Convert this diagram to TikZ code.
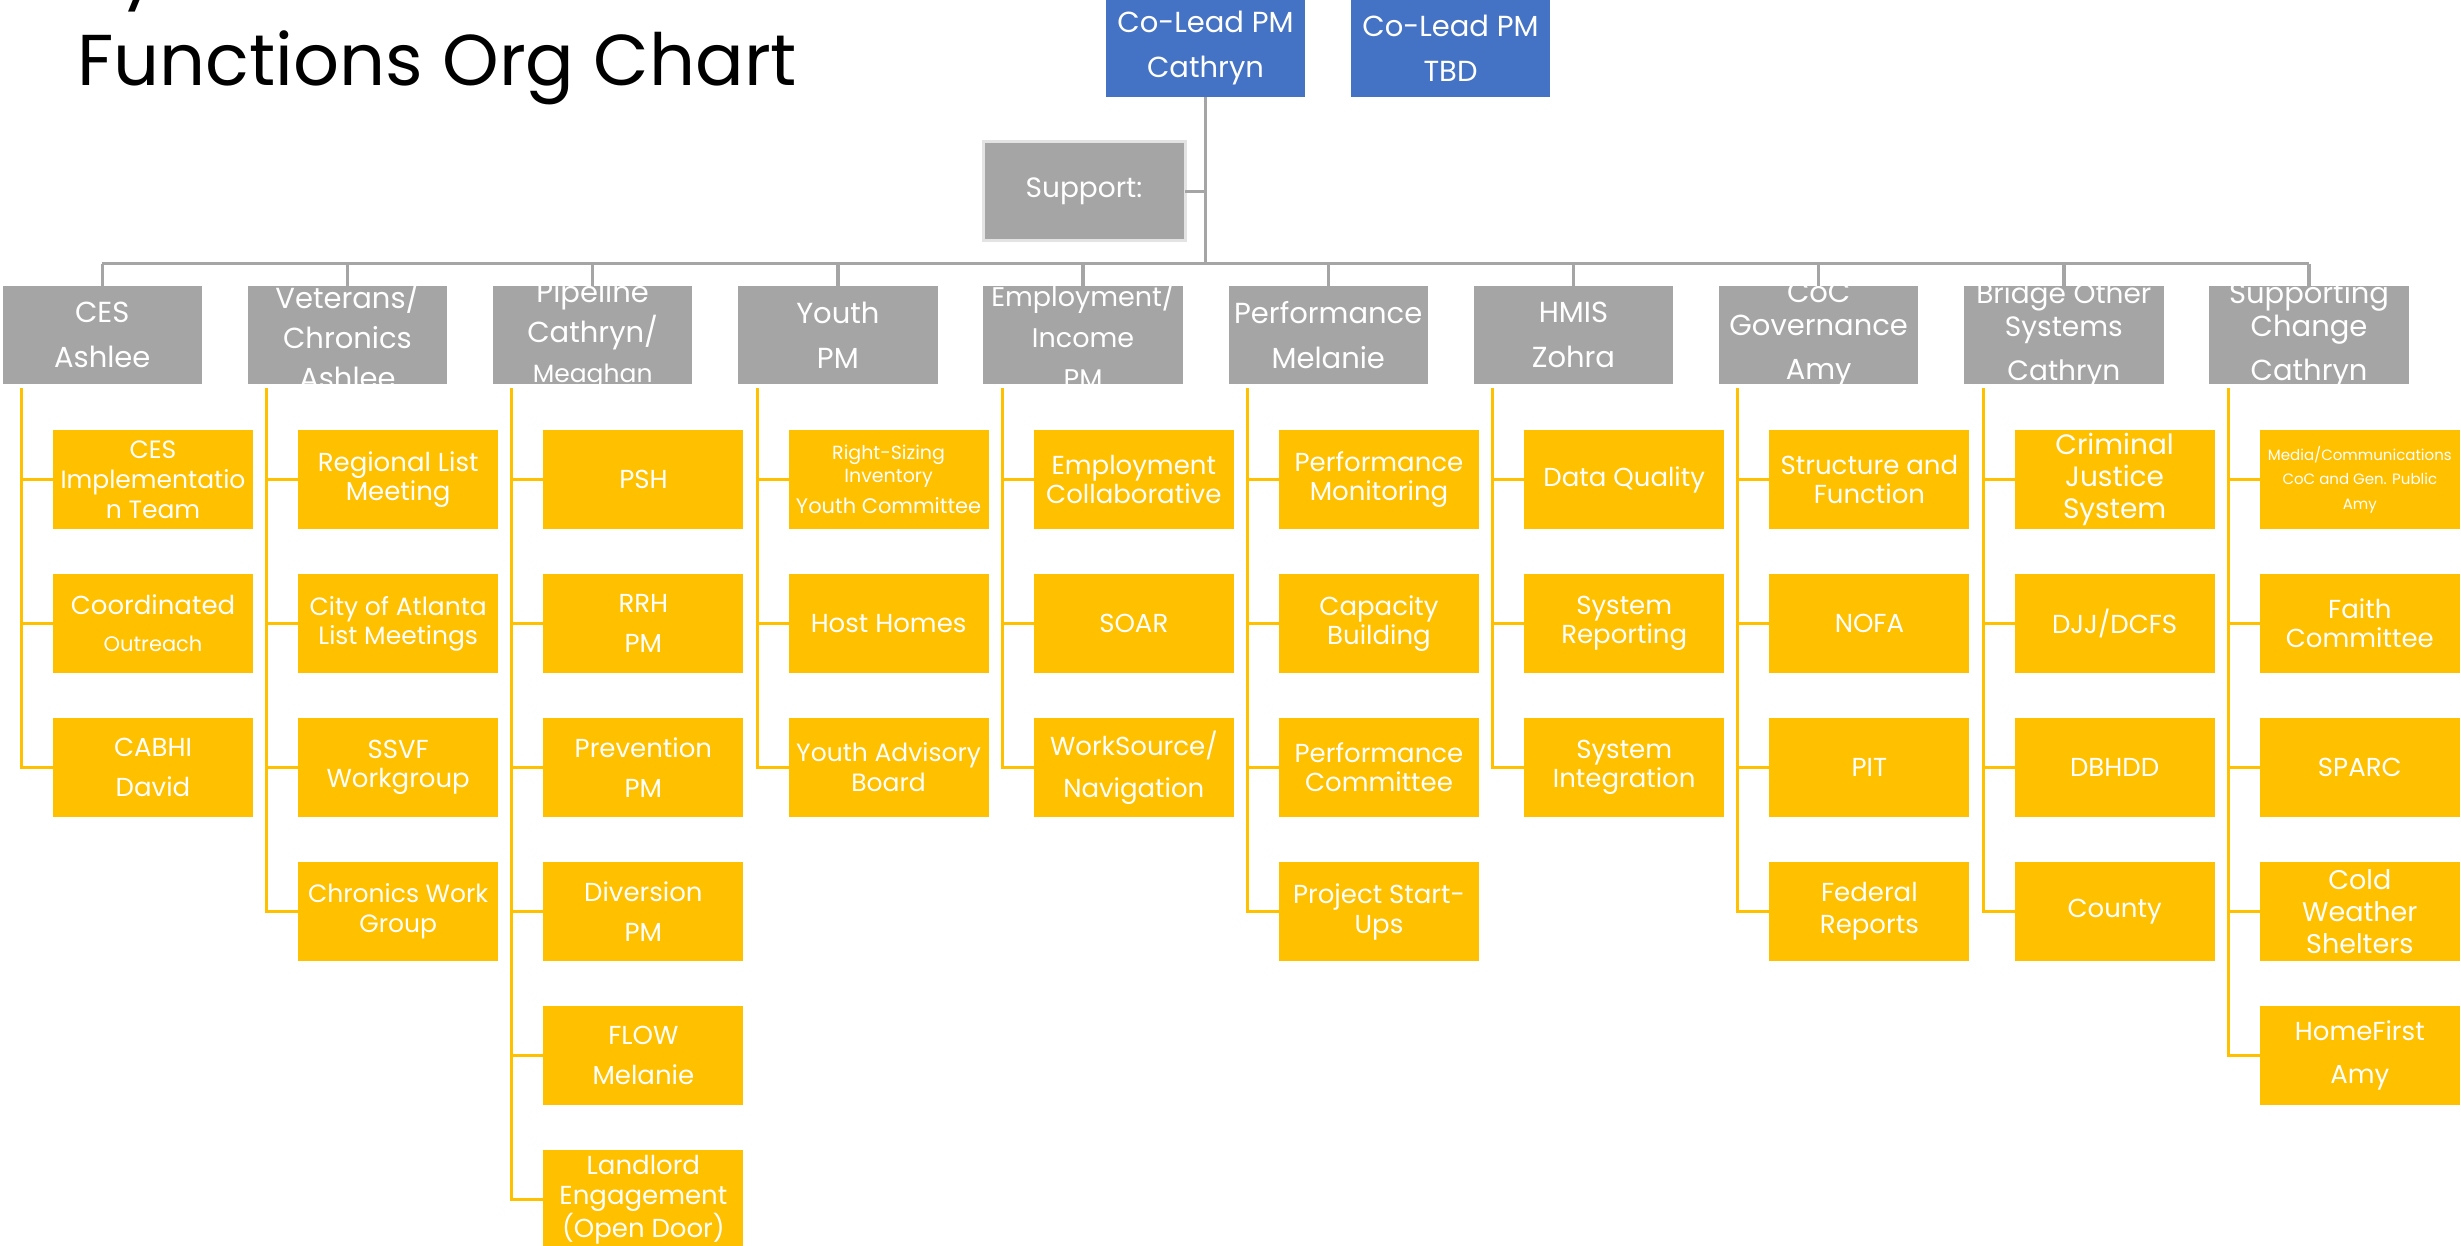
\documentclass[tikz,border=0pt]{standalone}
\usepackage{fontspec}
\setmainfont{Poppins}
\usetikzlibrary{calc}
\definecolor{hgray}{HTML}{A5A5A5}
\definecolor{kyel}{HTML}{FFC000}
\definecolor{lblue}{HTML}{4472C4}
\definecolor{sborder}{HTML}{E3E3E3}
\tikzset{
  headbox/.style={fill=hgray, draw=none, minimum width=99.75pt, minimum height=49pt, inner sep=0pt, outer sep=0pt, anchor=north west},
  kidbox/.style={fill=kyel, draw=none, minimum width=100pt, minimum height=49.5pt, inner sep=0pt, outer sep=0pt, anchor=north west},
  leadbox/.style={fill=lblue, draw=none, minimum width=99.5pt, minimum height=48.5pt, inner sep=0pt, outer sep=0pt, anchor=north west},
  headtxt/.style={text=white, align=center, inner sep=0pt, font=\fontsize{14.5}{20}\selectfont},
  kidtxt/.style={text=white, align=center, inner sep=0pt, font=\fontsize{13}{14.5}\selectfont},
  gline/.style={draw=hgray, line width=1.75pt},
  yline/.style={draw=kyel, line width=1.5pt},
  titletxt/.style={text=black, inner sep=0pt, anchor=base west, font=\fontsize{36}{40}\selectfont},
}
\newcommand{\mkhead}[4]{%
  \node[headbox] (#1) at (#2,286) {};
  \node[headtxt,#3] (#1t) at (#1.center) {#4};
}
\newcommand{\mkkid}[5]{%
  \node[kidbox] (#1) at ($(#2.north west)+(50.5,{144*(#3+1)})$) {};
  \node[kidtxt,#4] (#1t) at (#1.center) {#5};
  \draw[yline] ($(#2.south west)+(19,4)$) |- (#1.west);
}
\begin{document}
\begin{tikzpicture}[x=0.5pt,y=-0.5pt]
\useasboundingbox (0,0) rectangle (2461,1246);
% title
\node[titletxt] (title0) at (77,-6) {System};
\node[titletxt] (title) at (77,86) {Functions Org Chart};
% leads
\node[leadbox] (lead1) at (1106,0) {};
\node[headtxt] (lead1t) at (lead1.center) {Co-Lead PM\\[2.5pt]Cathryn};
\node[leadbox] (lead2) at (1351,0) {};
\node[headtxt] (lead2t) at (lead2.center) {Co-Lead PM\\[2.5pt]TBD};
% support
\node[fill=hgray, draw=sborder, line width=1.5pt, minimum width=101pt, minimum height=49.5pt, inner sep=0pt, outer sep=0pt, anchor=north west] (sup) at (983,142) {};
\node[headtxt, font=\fontsize{14}{16}\selectfont] (supt) at (sup.center) {Support:};
% heads
\mkhead{h1}{2.5}{}{CES\\[2.5pt]Ashlee}
\mkhead{h2}{247.7}{}{Veterans/\\Chronics\\Ashlee}
\mkhead{h3}{492.9}{}{Pipeline\\Cathryn/\\{\fontsize{12.5}{14}\selectfont Meaghan}}
\mkhead{h4}{738.1}{}{Youth\\[2.5pt]PM}
\mkhead{h5}{983.3}{font=\fontsize{13.5}{20.5}\selectfont}{Employment/\\Income\\PM}
\mkhead{h6}{1228.5}{}{Performance\\[2.5pt]Melanie}
\mkhead{h7}{1473.7}{}{HMIS\\[2.5pt]Zohra}
\mkhead{h8}{1718.9}{font=\fontsize{14.5}{16.5}\selectfont}{CoC\\Governance\\[5.5pt]Amy}
\mkhead{h9}{1964.1}{font=\fontsize{14}{16.5}\selectfont}{Bridge Other\\Systems\\[5.5pt]Cathryn}
\mkhead{h10}{2209.3}{font=\fontsize{14.5}{16.5}\selectfont}{Supporting\\Change\\[5.5pt]Cathryn}
% gray connectors
\coordinate (busy) at (0,263.5);
\draw[gline] (lead1.south) -- (lead1.south |- busy);
\draw[gline] (h1.north |- busy) -- (h10.north |- busy);
\foreach \h in {h1,h2,h3,h4,h5,h6,h7,h8,h9,h10}{
  \draw[gline] (\h.north |- busy) -- (\h.north);
}
\draw[gline] (sup.east) -- (sup.east -| lead1.south);
% children: CES
\mkkid{k11}{h1}{0}{font=\fontsize{12.5}{15}\selectfont}{CES\\Implementatio\\n Team}
\mkkid{k12}{h1}{1}{}{Coordinated\\[4pt]{\fontsize{10.5}{12}\selectfont Outreach}}
\mkkid{k13}{h1}{2}{}{CABHI\\[5.5pt]David}
% Veterans
\mkkid{k21}{h2}{0}{}{Regional List\\Meeting}
\mkkid{k22}{h2}{1}{font=\fontsize{12.5}{14.5}\selectfont}{City of Atlanta\\List Meetings}
\mkkid{k23}{h2}{2}{}{SSVF\\Workgroup}
\mkkid{k24}{h2}{3}{font=\fontsize{12.5}{15}\selectfont}{Chronics Work\\Group}
% Pipeline
\mkkid{k31}{h3}{0}{}{PSH}
\mkkid{k32}{h3}{1}{}{RRH\\[5.5pt]PM}
\mkkid{k33}{h3}{2}{}{Prevention\\[5.5pt]PM}
\mkkid{k34}{h3}{3}{}{Diversion\\[5.5pt]PM}
\mkkid{k35}{h3}{4}{}{FLOW\\[5.5pt]Melanie}
\mkkid{k36}{h3}{5}{font=\fontsize{13}{15}\selectfont}{Landlord\\Engagement\\(Open Door)}
% Youth
\mkkid{k41}{h4}{0}{font=\fontsize{9.5}{11.5}\selectfont}{Right-Sizing\\Inventory\\[4pt]{\fontsize{10.5}{12}\selectfont Youth Committee}}
\mkkid{k42}{h4}{1}{}{Host Homes}
\mkkid{k43}{h4}{2}{font=\fontsize{12.5}{15}\selectfont}{Youth Advisory\\Board}
% Employment
\mkkid{k51}{h5}{0}{}{Employment\\Collaborative}
\mkkid{k52}{h5}{1}{}{SOAR}
\mkkid{k53}{h5}{2}{}{WorkSource/\\[6.5pt]Navigation}
% Performance
\mkkid{k61}{h6}{0}{}{Performance\\Monitoring}
\mkkid{k62}{h6}{1}{}{Capacity\\Building}
\mkkid{k63}{h6}{2}{}{Performance\\Committee}
\mkkid{k64}{h6}{3}{font=\fontsize{13}{15}\selectfont}{Project Start-\\Ups}
% HMIS
\mkkid{k71}{h7}{0}{}{Data Quality}
\mkkid{k72}{h7}{1}{}{System\\Reporting}
\mkkid{k73}{h7}{2}{}{System\\Integration}
% CoC Governance
\mkkid{k81}{h8}{0}{}{Structure and\\Function}
\mkkid{k82}{h8}{1}{}{NOFA}
\mkkid{k83}{h8}{2}{}{PIT}
\mkkid{k84}{h8}{3}{font=\fontsize{13}{16}\selectfont}{Federal\\Reports}
% Bridge
\mkkid{k91}{h9}{0}{font=\fontsize{14}{16}\selectfont}{Criminal\\Justice\\System}
\mkkid{k92}{h9}{1}{}{DJJ/DCFS}
\mkkid{k93}{h9}{2}{}{DBHDD}
\mkkid{k94}{h9}{3}{}{County}
% Supporting Change
\mkkid{k101}{h10}{0}{font=\fontsize{7.5}{12.25}\selectfont}{Media/Communications\\CoC and Gen. Public\\Amy}
\mkkid{k102}{h10}{1}{}{Faith\\Committee}
\mkkid{k103}{h10}{2}{}{SPARC}
\mkkid{k104}{h10}{3}{font=\fontsize{13.5}{16}\selectfont}{Cold\\Weather\\Shelters}
\mkkid{k105}{h10}{4}{}{HomeFirst\\[7pt]Amy}
\end{tikzpicture}
\end{document}
